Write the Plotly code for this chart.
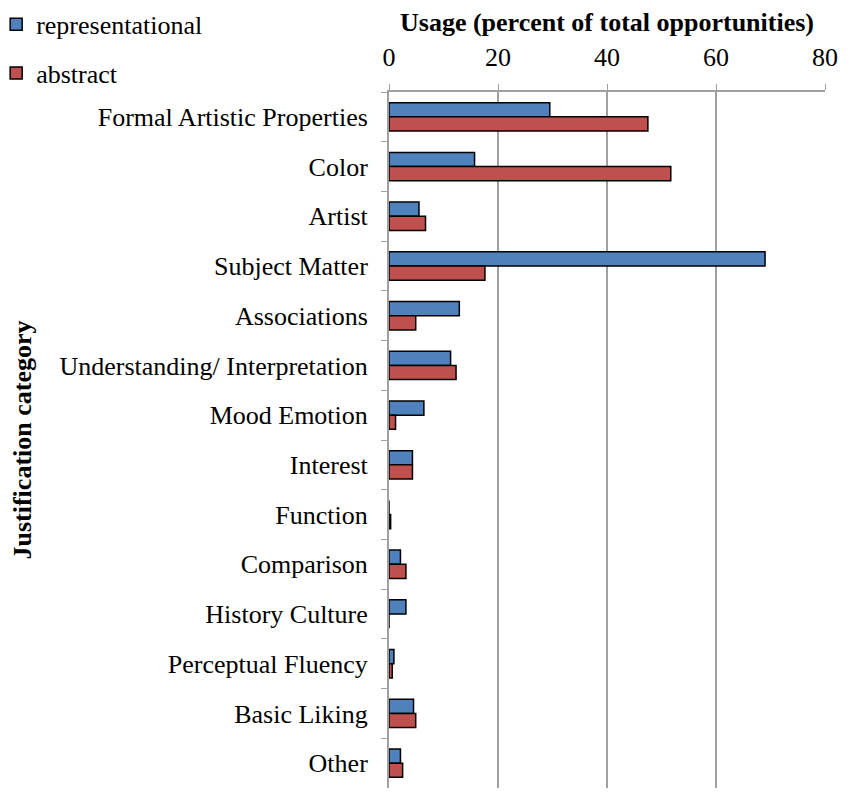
import plotly.graph_objects as go

categories = ["Formal Artistic Properties", "Color", "Artist", "Subject Matter",
              "Associations", "Understanding/ Interpretation", "Mood Emotion",
              "Interest", "Function", "Comparison", "History Culture",
              "Perceptual Fluency", "Basic Liking", "Other"]
representational = [29.5, 15.7, 5.5, 69.0, 12.9, 11.3, 6.4, 4.3, 0.0, 2.1, 3.1, 0.9, 4.5, 2.1]
abstract = [47.5, 51.7, 6.7, 17.6, 4.9, 12.3, 1.2, 4.3, 0.3, 3.1, 0.0, 0.6, 4.9, 2.5]
x_ticks = [0, 20, 40, 60, 80]

FONT = "Times New Roman, Liberation Serif, serif"
FS = 26

fig = go.Figure()
fig.add_trace(go.Bar(y=categories, x=representational, orientation="h",
                     name="representational", legendgroup="a",
                     marker=dict(color="#4F81BD", line=dict(color="black", width=1.5))))
fig.add_trace(go.Bar(y=categories, x=abstract, orientation="h",
                     name="abstract", legendgroup="b",
                     marker=dict(color="#C0504D", line=dict(color="black", width=1.5))))

fig.update_layout(
    width=850, height=800,
    margin=dict(l=381, r=33, t=84, b=20, autoexpand=False),
    paper_bgcolor="white", plot_bgcolor="white",
    barmode="group", bargap=0.43, bargroupgap=0,
    font=dict(family=FONT, size=FS, color="black"),
    showlegend=True,
    legend=dict(x=-0.901, y=1.131, xanchor="left", yanchor="top",
                traceorder="grouped", tracegroupgap=12,
                font=dict(family=FONT, size=FS, color="black"), itemwidth=30,
                bgcolor="rgba(0,0,0,0)"),
    xaxis=dict(side="top", range=[0, 80], tickvals=x_ticks, automargin=False,
               showgrid=True, gridcolor="#A0A0A0", gridwidth=2,
               showline=True, linecolor="#A0A0A0", linewidth=2,
               ticks="outside", ticklen=6, tickcolor="#A0A0A0",
               ticklabelstandoff=8,
               tickfont=dict(family=FONT, size=FS), zeroline=False,
               title=dict(text="<b>Usage (percent of total opportunities)</b>",
                          font=dict(family=FONT, size=FS), standoff=4)),
    yaxis=dict(categoryorder="array", categoryarray=categories, automargin=False,
               autorange="reversed", showline=True, linecolor="#A0A0A0",
               linewidth=2, ticks="outside", tickson="boundaries", ticklen=6,
               tickcolor="#A0A0A0", showgrid=False, ticklabelstandoff=14,
               tickfont=dict(family=FONT, size=FS),
               title=dict(text="<b>Justification category</b>",
                          font=dict(family=FONT, size=FS), standoff=22)),
)

fig.write_html("out.html")
